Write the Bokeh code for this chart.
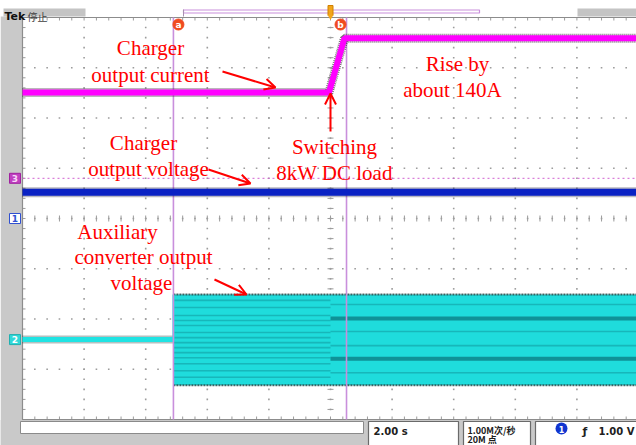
import numpy as np
from bokeh.plotting import figure
from bokeh.models import Range1d, Arrow, OpenHead, Label
from bokeh.embed import file_html
from bokeh.resources import INLINE

# ---------------- scope settings ----------------
SEC_PER_DIV = 2.0            # horizontal: 2.00 s/div
N_XDIV, N_YDIV = 10, 8       # graticule divisions

# ---------------- recorded traces ----------------
# CH3: charger output current, 130 A/div, ground marker at +0.80 div
ch3_offset_div = 0.80
ch3_amps_per_div = 130.0
current_t = [-10.0, -0.05, 0.45, 10.0]          # s
current_a = [222.0, 222.0, 362.0, 362.0]        # A  (rise by about 140 A)

# CH1: charger output voltage, screen position in divisions
voltage_t = [-10.0, 10.0]
voltage_div = [0.52, 0.52]

# CH2: auxiliary converter output voltage (divisions relative to CH2 marker)
ch2_offset_div = -2.41
aux_idle_t = [-10.0, -5.10]
aux_idle_div = [0.0, 0.0]
aux_on_start_t, aux_on_end_t = -5.10, 10.0
aux_top_div, aux_bottom_div = 0.90, -0.91
aux_stripes_before = [0.78, 0.64, 0.48, 0.38, 0.28, 0.14, 0.04, -0.06,
                      -0.16, -0.26, -0.36, -0.48, -0.62, -0.75]
aux_stripes_after_light = [0.70, 0.16, -0.12, -0.66]
aux_stripes_after_dark = [0.42, -0.38]

# cursors and events
switch_t = 0.0
cursor_a_t = -5.10
cursor_b_t = 0.52

# ---------------- screen geometry ----------------
CX, CY = 330.0, 218.0        # pixel position of graticule centre
PXX, PXY = 61.6, 50.25       # pixels per division
W, H = 636, 445


def tx(px):
    return (px - CX) / PXX * SEC_PER_DIV


def dy(py):
    return (CY - py) / PXY


def sx_len(px):
    return px / PXX * SEC_PER_DIV


def sy_len(px):
    return px / PXY


p = figure(width=W, height=H, output_backend="svg", toolbar_location=None,
           x_axis_type=None, y_axis_type=None, min_border=0, title=None,
           x_range=Range1d(tx(0), tx(W)), y_range=Range1d(dy(H), dy(0)))
p.outline_line_color = None
p.background_fill_color = "white"
p.border_fill_color = "white"
p.grid.visible = False

GRAY_BG = "#c9c9c9"
GRID = "#9c9c9c"

# ---------------- instrument frame ----------------
# left strip and bottom strip
p.quad(left=[tx(0)], right=[tx(22)], top=[dy(16)], bottom=[dy(H)],
       fill_color=GRAY_BG, line_color=None)
p.quad(left=[tx(0)], right=[tx(W)], top=[dy(419.5)], bottom=[dy(H)],
       fill_color=GRAY_BG, line_color=None)
# header boxes
p.quad(left=[tx(3)], right=[tx(85)], top=[dy(8)], bottom=[dy(16)],
       fill_color="#c4c4c4", line_color=None)
p.quad(left=[tx(577)], right=[tx(W)], top=[dy(8)], bottom=[dy(16)],
       fill_color="#c4c4c4", line_color=None)
# footer read-out boxes
p.quad(left=[tx(20)], right=[tx(363)], top=[dy(421)], bottom=[dy(433)],
       fill_color="white", line_color="#8a8a8a", line_width=1)
for l, r in [(368, 458), (463, 530), (535, 640)]:
    p.quad(left=[tx(l)], right=[tx(r)], top=[dy(421)], bottom=[dy(448)],
           fill_color="white", line_color="#6a6a6a", line_width=1.2)

# ---------------- graticule ----------------
x_left, x_right = -N_XDIV / 2 * SEC_PER_DIV, N_XDIV / 2 * SEC_PER_DIV
y_bot, y_top = -N_YDIV / 2, N_YDIV / 2
minor_x = np.arange(x_left, x_right + 1e-9, SEC_PER_DIV / 5)
minor_y = np.arange(y_bot, y_top + 1e-9, 0.2)
major_x = np.arange(x_left + SEC_PER_DIV, x_right - 1e-9, SEC_PER_DIV)
major_y = np.arange(y_bot + 1, y_top - 1e-9, 1.0)

dots_x, dots_y = [], []
for mx in major_x:
    for my in minor_y[1:-1]:
        dots_x.append(mx)
        dots_y.append(my)
for my in major_y:
    for mx in minor_x[1:-1]:
        dots_x.append(mx)
        dots_y.append(my)
p.scatter(dots_x, dots_y, marker="square", size=1.6, color=GRID, line_color=None)

# centre cross ticks
tl_x, tl_y = sx_len(3), sy_len(3)
p.segment(x0=[-tl_x] * len(minor_y), x1=[tl_x] * len(minor_y),
          y0=list(minor_y), y1=list(minor_y), line_color=GRID, line_width=1)
p.segment(x0=list(minor_x), x1=list(minor_x),
          y0=[-tl_y] * len(minor_x), y1=[tl_y] * len(minor_x), line_color=GRID, line_width=1)
# border ticks
p.segment(x0=list(minor_x), x1=list(minor_x), y0=[y_top] * len(minor_x),
          y1=[y_top - tl_y] * len(minor_x), line_color=GRID)
p.segment(x0=list(minor_x), x1=list(minor_x), y0=[y_bot] * len(minor_x),
          y1=[y_bot + tl_y] * len(minor_x), line_color=GRID)
p.segment(x0=[x_left] * len(minor_y), x1=[x_left + tl_x] * len(minor_y),
          y0=list(minor_y), y1=list(minor_y), line_color=GRID)
# border
p.line([x_right, x_left, x_left, x_right], [y_top, y_top, y_bot, y_bot],
       line_color="#8c8c8c", line_width=1.2)

# ---------------- CH2: auxiliary converter output ----------------
ch2_idle = [ch2_offset_div + v for v in aux_idle_div]
p.line(aux_idle_t, ch2_idle, line_color="#2a4a4a", line_width=8, line_dash="1 1", line_alpha=0.7)
p.line(aux_idle_t, ch2_idle, line_color="#1fe3e3", line_width=5)

band_top = ch2_offset_div + aux_top_div
band_bot = ch2_offset_div + aux_bottom_div
p.quad(left=[aux_on_start_t], right=[aux_on_end_t], top=[band_top], bottom=[band_bot],
       fill_color="#1fdcdc", line_color=None)
sb = [ch2_offset_div + s for s in aux_stripes_before]
p.segment(x0=[aux_on_start_t] * len(sb), x1=[switch_t] * len(sb), y0=sb, y1=sb,
          line_color="#129ea3", line_width=1.6, line_alpha=0.6)
sal = [ch2_offset_div + s for s in aux_stripes_after_light]
p.segment(x0=[switch_t] * len(sal), x1=[aux_on_end_t] * len(sal), y0=sal, y1=sal,
          line_color="#129ea3", line_width=1.6, line_alpha=0.6)
sad = [ch2_offset_div + s for s in aux_stripes_after_dark]
p.segment(x0=[switch_t] * len(sad), x1=[aux_on_end_t] * len(sad), y0=sad, y1=sad,
          line_color="#0b7f86", line_width=4, line_alpha=0.8)
for edge in (band_top, band_bot):
    p.line([aux_on_start_t, aux_on_end_t], [edge, edge], line_color="#204040",
           line_width=2, line_dash="2 1", line_alpha=0.8)
p.line([aux_on_start_t, aux_on_start_t], [ch2_offset_div, band_top],
       line_color="#1fdcdc", line_width=2)

# CH3 reference level (dotted)
p.line([x_left, tx(W)], [ch3_offset_div, ch3_offset_div], line_color="#d060d0",
       line_width=1, line_dash="2 3")

# ---------------- cursors ----------------
for ct in (cursor_a_t, cursor_b_t):
    p.line([ct, ct], [y_bot, y_top], line_color="#c98fdc", line_width=1.6)

# ---------------- CH1: charger output voltage ----------------
p.line(voltage_t, voltage_div, line_color="#101030", line_width=10, line_dash="1 1", line_alpha=0.6)
p.line(voltage_t, voltage_div, line_color="#0a22c4", line_width=7)

# ---------------- CH3: charger output current ----------------
cur_div = [ch3_offset_div + a / ch3_amps_per_div for a in current_a]
p.line(current_t, cur_div, line_color="#302030", line_width=9, line_dash="1 1", line_alpha=0.65)
p.line(current_t, cur_div, line_color="#ff00ff", line_width=6)

# ---------------- channel markers ----------------
def marker(y, txt, fill, line, tcol):
    p.quad(left=[tx(9)], right=[tx(20)], top=[y + sy_len(5)], bottom=[y - sy_len(5)],
           fill_color=fill, line_color=line, line_width=1)
    p.add_layout(Label(x=tx(14.5), y=y, text=txt, text_align="center",
                       text_baseline="middle", text_font_size="9px",
                       text_font_style="bold", text_color=tcol, text_font="DejaVu Sans"))


marker(ch3_offset_div, "3", "#c040c0", "#a020a0", "#f8d8f8")
marker(0.0, "1", "white", "#3050d0", "#3050d0")
marker(ch2_offset_div, "2", "#30d8d8", "#20b0b0", "white")

# cursor badges
for ct, txt, dx in ((cursor_a_t, "a", 5), (cursor_b_t, "b", -6)):
    p.scatter([ct + sx_len(dx)], [dy(24)], marker="circle", size=11,
              fill_color="#f04a20", line_color="#f04a20")
    p.add_layout(Label(x=ct + sx_len(dx), y=dy(24.5), text=txt, text_align="center",
                       text_baseline="middle", text_font_size="9px", text_font_style="bold",
                       text_color="white", text_font="DejaVu Sans"))

# trigger position bar and trigger marker
p.quad(left=[tx(183)], right=[tx(479)], top=[dy(9.5)], bottom=[dy(12.5)],
       fill_color=None, line_color="#c98fdc", line_width=1.2)
p.segment(x0=[tx(183), tx(479)], x1=[tx(183), tx(479)], y0=[dy(9)], y1=[dy(16)],
          line_color="#a890b0", line_width=1)
p.quad(left=[switch_t - sx_len(2.5)], right=[switch_t + sx_len(2.5)], top=[dy(5)],
       bottom=[dy(15)], fill_color="#f2a51a", line_color="#d08000")
p.scatter([switch_t], [dy(16)], marker="triangle", angle=np.pi, size=6,
          fill_color="#f2a51a", line_color=None)

# ---------------- header / footer text ----------------
def ui_text(px, py, txt, size="10px", color="#202020", font="DejaVu Sans", style="bold",
            align="left", baseline="alphabetic"):
    p.add_layout(Label(x=tx(px), y=dy(py), text=txt, text_font_size=size,
                       text_color=color, text_font=font, text_font_style=style,
                       text_align=align, text_baseline=baseline))


ui_text(4, 16, "Tek", size="11px", color="#101010")
ui_text(27, 16, "停止", size="10px", color="#404040", font="Noto Sans CJK SC", style="normal")
ui_text(373, 431, "2.00 s", size="10px")
ui_text(467, 429.5, "1.00M次/秒", size="9px", font="Noto Sans CJK SC", style="bold")
ui_text(467, 438.5, "20M 点", size="9px", font="Noto Sans CJK SC", style="bold")
p.scatter([tx(561)], [dy(428)], marker="circle", size=12, fill_color="#1035d0", line_color=None)
ui_text(561, 428.5, "1", size="8px", color="white", align="center", baseline="middle")
ui_text(582, 431, "ƒ", size="11px", color="#202020")
ui_text(634, 431, "1.00 V", size="10px", align="right")

# ---------------- annotations ----------------
RED = "#ff0000"


def note(px, py, txt):
    p.add_layout(Label(x=tx(px), y=dy(py), text=txt, text_align="center",
                       text_baseline="alphabetic", text_font_size="21px",
                       text_color=RED, text_font="Liberation Serif"))


def arrow(x0, y0, x1, y1):
    p.add_layout(Arrow(end=OpenHead(size=11, line_color=RED, line_width=2),
                       x_start=tx(x0), y_start=dy(y0), x_end=tx(x1), y_end=dy(y1),
                       line_color=RED, line_width=2))


note(150, 47, "Charger")
note(150, 74, "output current")
note(457, 63, "Rise by")
note(452, 89, "about 140A")
note(334, 146, "Switching")
note(334, 172, "8kW DC load")
note(143, 142, "Charger")
note(148, 168, "output voltage")
note(117, 231, "Auxiliary")
note(143, 256, "converter output")
note(141, 282, "voltage")

arrow(222, 71, 275, 87)
arrow(330, 131, 330, 93)
arrow(208, 169, 250, 183)
arrow(214, 279, 246, 294)

open("out.html", "w").write(file_html(p, INLINE))
